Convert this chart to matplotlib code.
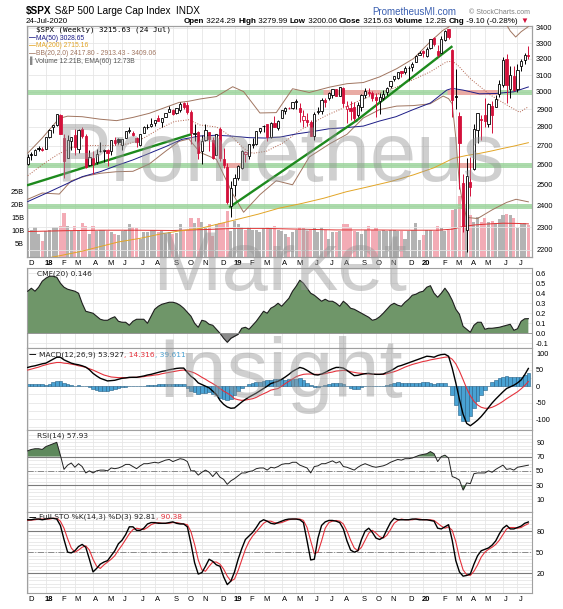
import numpy as np
import pandas as pd
import matplotlib
matplotlib.use('Agg')
import matplotlib.pyplot as plt
from matplotlib.ticker import NullLocator, NullFormatter

plt.rcParams['font.family'] = ['DejaVu Sans']

W, H = 563, 609
fig = plt.figure(figsize=(W / 100, H / 100), dpi=100)


def fx(x):
    return x / W


def fy(y):
    return 1 - y / H


# weekly bars, 1 Dec 2017 .. 24 Jul 2020
weeks = pd.date_range('2017-12-01', '2020-07-24', freq='W-FRI')
idx = np.arange(len(weeks))

opens = [2603, 2657, 2652, 2685, 2682, 2684, 2746, 2799, 2810, 2867,
         2741, 2637, 2722, 2757, 2681, 2790, 2752, 2600, 2633, 2615,
         2670, 2675, 2675, 2669, 2727, 2735, 2705, 2742, 2780, 2766,
         2742, 2705, 2768, 2798, 2805, 2820, 2849, 2828, 2857, 2884,
         2897, 2880, 2896, 2933, 2926, 2882, 2763, 2773, 2670, 2727,
         2774, 2730, 2650, 2790, 2630, 2590, 2400, 2498, 2535, 2585,
         2657, 2644, 2703, 2707, 2780, 2804, 2814, 2747, 2822, 2797,
         2848, 2888, 2908, 2904, 2941, 2908, 2840, 2841, 2830, 2751,
         2885, 2887, 2952, 2964, 2980, 3018, 2978, 3025, 2899, 2908,
         2913, 2866, 2910, 2980, 2996, 2993, 2967, 2944, 2965, 2996,
         3035, 3078, 3081, 3123, 3117, 3144, 3147, 3183, 3227, 3247,
         3218, 3271, 3334, 3248, 3236, 3318, 3390, 3257, 2974, 2863,
         2509, 2290, 2514, 2578, 2782, 2845, 2869, 2815, 2915, 2913,
         2988, 3038, 3199, 3018, 3094, 3018, 3155, 3191, 3224]
highs = [2657, 2665, 2680, 2695, 2692, 2744, 2787, 2811, 2873, 2870,
         2763, 2755, 2747, 2789, 2787, 2802, 2762, 2674, 2672, 2681,
         2718, 2683, 2682, 2732, 2743, 2742, 2736, 2779, 2801, 2780,
         2743, 2760, 2804, 2816, 2848, 2841, 2864, 2851, 2877, 2916,
         2900, 2906, 2941, 2940, 2939, 2894, 2816, 2778, 2756, 2815,
         2775, 2747, 2760, 2800, 2686, 2607, 2520, 2553, 2597, 2675,
         2672, 2708, 2738, 2780, 2793, 2813, 2817, 2830, 2860, 2836,
         2894, 2910, 2913, 2940, 2955, 2932, 2892, 2875, 2840, 2884,
         2911, 2964, 2964, 2996, 3014, 3018, 3028, 3029, 2945, 2944,
         2939, 2940, 2985, 3021, 3022, 3002, 2992, 2993, 3008, 3027,
         3066, 3097, 3121, 3127, 3154, 3154, 3183, 3226, 3248, 3259,
         3275, 3330, 3338, 3285, 3347, 3385, 3393, 3260, 3137, 2883,
         2555, 2637, 2641, 2818, 2880, 2868, 2965, 2933, 2945, 2980,
         3068, 3211, 3233, 3155, 3155, 3165, 3200, 3238, 3280]
lows = [2600, 2625, 2649, 2673, 2673, 2683, 2738, 2769, 2808, 2762,
        2533, 2634, 2675, 2648, 2659, 2741, 2586, 2594, 2553, 2605,
        2665, 2612, 2594, 2649, 2702, 2708, 2676, 2742, 2766, 2749,
        2691, 2698, 2768, 2790, 2799, 2803, 2831, 2802, 2853, 2884,
        2864, 2873, 2886, 2903, 2874, 2710, 2724, 2628, 2603, 2723,
        2670, 2631, 2649, 2621, 2583, 2409, 2347, 2444, 2525, 2580,
        2612, 2631, 2687, 2704, 2765, 2775, 2722, 2739, 2800, 2785,
        2848, 2873, 2898, 2900, 2900, 2825, 2800, 2805, 2750, 2728,
        2873, 2874, 2912, 2952, 2966, 2975, 2975, 2914, 2822, 2840,
        2834, 2853, 2891, 2964, 2978, 2946, 2856, 2873, 2952, 2983,
        3023, 3065, 3077, 3090, 3107, 3070, 3125, 3183, 3223, 3212,
        3214, 3263, 3280, 3214, 3234, 3316, 3328, 2855, 2902, 2478,
        2280, 2192, 2447, 2575, 2715, 2727, 2801, 2798, 2766, 2910,
        2969, 3031, 2936, 2965, 3004, 3000, 3127, 3166, 3200]
closes = [2642, 2652, 2676, 2683, 2674, 2743, 2786, 2810, 2873, 2762,
          2620, 2732, 2747, 2691, 2786, 2752, 2588, 2641, 2604, 2656,
          2670, 2670, 2663, 2728, 2712, 2721, 2735, 2779, 2780, 2755,
          2718, 2760, 2801, 2802, 2819, 2840, 2833, 2850, 2875, 2901,
          2872, 2905, 2930, 2914, 2886, 2767, 2768, 2659, 2723, 2781,
          2736, 2633, 2760, 2633, 2600, 2417, 2486, 2532, 2596, 2671,
          2665, 2707, 2708, 2776, 2793, 2804, 2743, 2822, 2800, 2834,
          2893, 2907, 2905, 2940, 2946, 2881, 2860, 2826, 2752, 2873,
          2887, 2950, 2942, 2990, 3014, 2977, 3026, 2932, 2919, 2889,
          2847, 2926, 2979, 3007, 2992, 2962, 2952, 2970, 2986, 3023,
          3066, 3093, 3120, 3110, 3141, 3146, 3169, 3221, 3240, 3235,
          3265, 3330, 3295, 3226, 3328, 3380, 3338, 2954, 2972, 2711,
          2305, 2541, 2489, 2790, 2875, 2837, 2831, 2930, 2864, 2955,
          3044, 3194, 3041, 3098, 3009, 3130, 3185, 3225, 3216]
# volume in billions
volume = [11.0, 10.5, 11.5, 9.0, 6.0, 10.0, 10.5, 11.5, 11.5, 12.0,
          17.0, 12.0, 10.0, 12.0, 10.5, 13.0, 12.0, 9.0, 12.0, 10.0,
          10.5, 10.5, 10.0, 9.5, 9.0, 8.5, 10.0, 10.5, 12.5, 11.5,
          11.0, 7.0, 9.5, 9.8, 10.5, 10.5, 9.5, 10.0, 9.0, 9.5,
          9.0, 9.2, 12.5, 10.5, 10.5, 15.0, 13.0, 15.0, 13.5, 11.0,
          12.5, 8.0, 12.5, 13.0, 13.0, 17.5, 10.0, 14.0, 12.5, 11.5,
          10.5, 11.5, 10.5, 10.5, 9.5, 11.0, 11.5, 11.0, 12.0, 10.5,
          10.0, 9.0, 7.5, 9.5, 10.5, 11.5, 11.0, 10.0, 10.5, 11.0,
          9.5, 11.5, 10.5, 7.0, 9.5, 9.5, 10.0, 12.5, 12.5, 11.5,
          10.0, 9.5, 9.0, 10.5, 12.0, 10.5, 11.0, 10.0, 10.5, 10.0,
          10.5, 10.5, 10.0, 10.0, 7.0, 10.0, 10.5, 13.0, 6.5, 8.5,
          10.5, 10.5, 10.0, 12.0, 11.0, 10.0, 10.5, 18.0, 18.5, 23.5,
          23.0, 19.0, 16.0, 13.5, 15.5, 13.5, 15.0, 13.5, 14.0, 13.0,
          14.5, 16.0, 16.5, 16.0, 15.0, 11.0, 12.5, 13.0, 12.2]

# overlays: (week index, value)
ma50_x = [0, 6, 11, 15, 20, 24.5, 29, 33.5, 38, 42.5, 47.5, 52, 56.5, 61, 65.5, 69.5,
          74, 78.5, 83, 87.5, 92.5, 97, 101.5, 106, 111, 115.5, 117, 120, 124.5, 129, 134, 138]
ma50_y = [2419, 2466, 2507, 2540, 2565, 2596, 2625, 2659, 2694, 2733, 2751, 2755, 2750, 2742, 2740, 2745,
          2762, 2775, 2790, 2796, 2805, 2833, 2857, 2895, 2935, 3010, 3020, 3010, 2988, 2990, 3000, 3028.65]
ma200_x = [0, 8.7, 15, 20, 25, 31, 36, 41.5, 47.5, 52.5, 57.5, 63.5, 69.3, 75.5, 81.6, 87.8,
           93.8, 99.8, 106.3, 112, 117.3, 121, 124.6, 128, 131, 134, 138]
ma200_y = [2150, 2175, 2195, 2215, 2235, 2251, 2268, 2283, 2295, 2315, 2335, 2360, 2388, 2410, 2435, 2466,
           2490, 2515, 2549, 2585, 2633, 2648, 2659, 2672, 2685, 2697, 2715.16]
bb_mid_x = [0, 4, 8, 12, 16, 20, 24, 28, 32, 36.3, 40.4, 44.4, 47.5, 52, 56.5, 59.5, 62, 65.8,
            70.4, 75, 78.7, 82.4, 86, 91.5, 97, 101.7, 110.9, 115.4, 117, 118, 119, 120, 122,
            127.4, 132.9, 135.6, 138]
bb_mid_y = [2545, 2600, 2650, 2690, 2700, 2700, 2700, 2710, 2740, 2790, 2830, 2840, 2811, 2800, 2743, 2685,
            2659, 2670, 2714, 2780, 2824, 2865, 2897, 2950, 2993, 3028, 3119, 3181, 3185, 3170, 3150,
            3125, 3078, 2983, 2913, 2882, 2913.43]
bb_up_x = [0, 4, 8.7, 11, 15, 20, 24.5, 29, 33.5, 38, 41.7, 44.4, 47.5, 52, 56.5, 59.5, 64, 68.5,
           73, 77.6, 83.3, 88, 92.5, 97, 101.7, 106.3, 110.9, 114.5, 116, 117, 118, 120, 124,
           128, 131, 132, 133, 134.5, 136, 138]
bb_up_y = [2660, 2740, 2848, 2860, 2857, 2843, 2835, 2853, 2876, 2910, 2938, 2945, 2958, 2972, 3030, 3001,
           2878, 2880, 3018, 2996, 3028, 3048, 3055, 3089, 3139, 3201, 3308, 3385, 3405, 3440, 3600,
           3800, 3800, 3600, 3460, 3420, 3380, 3340, 3375, 3409.06]
bb_lo_x = [0, 4, 8.7, 12, 16, 20, 24.5, 29, 33.5, 38, 41.7, 44.4, 47.5, 52, 56.5, 59.5, 64, 68.5,
           73, 77.6, 83.3, 88, 92.5, 97, 101.7, 106.3, 110.9, 114.5, 116, 117, 118, 119, 120,
           121, 124, 128, 132, 134.6, 136, 138]
bb_lo_y = [2430, 2460, 2455, 2520, 2543, 2557, 2565, 2567, 2604, 2670, 2722, 2735, 2664, 2628, 2456, 2369,
           2452, 2520, 2500, 2640, 2710, 2760, 2850, 2897, 2917, 2920, 2930, 2975, 2960, 2930, 2740,
           2500, 2400, 2345, 2340, 2380, 2415, 2430, 2425, 2417.8]
vol_ema_x = [0, 10, 20, 30, 40, 50, 57, 65, 75, 85, 95, 105, 113, 117, 120, 123, 127, 131, 135, 138]
vol_ema_y = [9.8, 10.1, 10.3, 10.3, 10.2, 10.6, 11.0, 11.0, 10.7, 10.4, 10.4, 10.3, 10.3, 10.7, 11.7,
             12.3, 12.7, 13.0, 12.9, 12.73]

# drawn annotations
levels = [3000, 2600, 2400]
level_pink = [(3000, 81.5, 97.1), (3000, 115.5, 129.3), (2600, 53.9, 58.6), (2600, 119, 123)]
trend_lines = [([0.1, 44.7], [2499, 2758]),
               ([55.8, 90.6], [2395, 2835]),
               ([90.6, 116.8], [2835, 3276])]

cmf = [0.42, 0.45, 0.42, 0.46, 0.52, 0.55, 0.57, 0.57, 0.56, 0.50,
       0.46, 0.44, 0.43, 0.42, 0.40, 0.30, 0.22, 0.21, 0.20, 0.17,
       0.14, 0.13, 0.13, 0.15, 0.165, 0.12, 0.11, 0.11, 0.08, 0.12,
       0.14, 0.14, 0.14, 0.10, 0.17, 0.24, 0.27, 0.29, 0.30, 0.31,
       0.31, 0.30, 0.28, 0.25, 0.21, 0.17, 0.10, 0.06, 0.13, 0.12,
       0.09, 0.08, 0.04, 0.00, -0.05, -0.09, -0.05, -0.03, -0.01, 0.05,
       0.06, 0.04, 0.08, 0.12, 0.17, 0.22, 0.20, 0.25, 0.27, 0.30,
       0.27, 0.31, 0.35, 0.42, 0.47, 0.53, 0.50, 0.45, 0.40, 0.38,
       0.35, 0.32, 0.34, 0.32, 0.32, 0.30, 0.27, 0.32, 0.29, 0.25,
       0.24, 0.22, 0.20, 0.18, 0.16, 0.13, 0.14, 0.165, 0.20, 0.24,
       0.28, 0.30, 0.28, 0.27, 0.31, 0.34, 0.38, 0.39, 0.41, 0.42,
       0.46, 0.475, 0.40, 0.36, 0.40, 0.45, 0.40, 0.33, 0.24, 0.19,
       0.07, 0.04, 0.01, 0.08, 0.11, 0.11, 0.04, 0.05, 0.05, 0.055,
       0.06, 0.07, 0.08, 0.09, 0.03, 0.045, 0.12, 0.145, 0.146]
macd = [57, 60, 62, 65, 68, 70, 76, 82, 88, 88,
        80, 75, 70, 67, 65, 62, 58, 50, 39, 31,
        24, 20, 16, 17, 18, 21, 24, 25, 27, 27,
        27, 29, 31, 34, 36, 39, 42, 45, 47, 50,
        52, 54, 55, 55, 42, 30, 22, 10, 5, 0,
        -5, -15, -25, -43, -55, -63, -67, -66, -57, -48,
        -40, -33, -27, -21, -14, -7, 0, 8, 11.5, 15,
        21, 28, 36, 45, 51, 57, 54, 48, 41, 35,
        34, 37, 42, 48, 53, 57, 57, 55, 48, 40,
        32, 33, 36, 38, 39, 37, 36, 36, 37, 42,
        47, 53, 60, 63, 67, 71, 75, 79, 83, 87,
        91, 90, 88, 93, 96, 97, 91, 55, 10, -40,
        -85, -113, -120, -112, -103, -92, -79, -65, -51, -39,
        -28, -17, -7, -2, 3, 10, 19, 35, 53.927]
macd_sig = [49, 52, 55, 58, 62, 65, 68, 70, 72, 72,
            70, 69, 67, 65, 62, 60, 57, 53, 49, 44,
            39, 34, 31, 28, 27, 26, 26, 26, 26, 27,
            27, 28, 29, 31, 32, 34, 35, 38, 40, 42,
            44, 46, 48, 49, 47, 44, 40, 34, 27, 21,
            14, 8, 1, -7, -15, -21, -28, -38, -41, -43,
            -42, -40, -38, -34, -28, -23, -18, -12, -9.5, -7,
            0, 8, 15, 22, 29, 33, 36, 37, 37, 36,
            36, 36, 38, 41, 43, 46, 47, 48, 47, 44,
            42, 40, 39, 38, 37, 36, 36, 36, 36, 38,
            41, 44, 48, 53, 58, 62, 66, 69, 72, 75,
            77, 80, 82, 84, 86, 88, 89, 82, 68, 46,
            20, -7, -29, -46, -57, -64, -67, -67, -64, -59,
            -53, -46, -38, -31, -24, -17, -8, 2, 14.316]
rsi = [78, 80, 81, 81, 80, 84, 86, 88, 90, 72,
       52, 58, 61, 55, 60, 56, 47, 50, 47, 50,
       51, 51, 50, 54, 53, 54, 56, 59, 59, 56,
       53, 57, 60, 60, 61, 62, 61, 63, 65, 66,
       63, 65, 67, 66, 63, 50, 50, 44, 48, 51,
       48, 42, 48, 41, 38, 31, 36, 39, 43, 47,
       47, 49, 50, 53, 54, 54, 51, 55, 54, 56,
       59, 60, 60, 62, 62, 58, 56, 54, 47, 56,
       57, 60, 60, 62, 64, 61, 63, 56, 55, 53,
       51, 55, 58, 60, 58, 56, 55, 56, 57, 59,
       62, 64, 66, 65, 67, 67, 68, 70, 72, 73,
       74, 77, 74, 63, 70, 72, 68, 42, 40, 37,
       23, 33, 32, 46, 47, 47, 47, 50, 48, 52,
       55, 58, 52, 53, 51, 55, 56, 57, 57.93]
sto_k = [96, 96, 97, 97, 96, 97, 98, 98, 97, 88,
         68, 50, 49, 52, 58, 61, 57, 40, 22, 27,
         33, 36, 38, 45, 52, 62, 67, 75, 86, 86,
         81, 81, 84, 90, 92, 92, 91, 91, 91, 92,
         93, 91, 90, 90, 86, 62, 35, 19, 21, 30,
         40, 37, 32, 30, 15, 4, 9, 22, 40, 55,
         68, 73, 78, 85, 93, 96, 94, 91, 90, 92,
         94, 96, 97, 97, 97, 96, 92, 66, 39, 40,
         70, 88, 93, 95, 95, 94, 92, 83, 66, 53,
         50, 52, 68, 80, 84, 78, 70, 68, 71, 82,
         92, 98, 96, 96, 96, 96, 97, 97, 96, 96,
         96, 95, 94, 84, 83, 86, 89, 67, 38, 22,
         16, 17, 19, 33, 45, 52, 54, 56, 60, 66,
         76, 84, 88, 83, 83, 85, 87, 91, 92.81]
sto_d = [95, 95.5, 96, 97, 97, 97, 97, 98, 98, 94,
         84, 69, 56, 50, 53, 57, 59, 53, 40, 30,
         27, 32, 36, 40, 45, 53, 60, 68, 76, 82,
         84, 83, 82, 85, 89, 91, 92, 91, 91, 91,
         92, 92, 91, 90, 89, 79, 61, 39, 25, 23,
         30, 36, 36, 33, 26, 16, 9, 12, 24, 39,
         54, 65, 73, 79, 85, 91, 94, 94, 92, 91,
         92, 94, 96, 97, 97, 97, 95, 85, 66, 48,
         50, 66, 84, 92, 94, 95, 94, 90, 80, 67,
         56, 52, 57, 67, 77, 81, 77, 72, 70, 74,
         82, 91, 95, 97, 96, 96, 96, 97, 97, 96,
         96, 96, 95, 91, 87, 84, 86, 81, 65, 42,
         25, 18, 17, 23, 32, 43, 50, 54, 57, 61,
         67, 75, 83, 85, 85, 84, 85, 88, 90.38]

# month grid / labels
month_pos, month_lab, is_year = [], [], []
for j, d in enumerate(weeks):
    if j == 0 or d.month != weeks[j - 1].month:
        month_pos.append(j)
        if d.month == 1:
            month_lab.append(d.strftime('%y'))
            is_year.append(True)
        else:
            month_lab.append('JFMAMJJASOND'[d.month - 1])
            is_year.append(False)

GRID = '#e6e6e6'
EDGE = '#a0a0a0'
RED = '#d3103a'
NUMFONT = 'Liberation Sans'


def rect(top, bottom):
    return [fx(27), fy(bottom), fx(532) - fx(27), (bottom - top) / H]


def setup(ax, labels=False):
    ax.set_xlim(-0.2, 139.0)
    for j in month_pos:
        ax.axvline(j, color=GRID, lw=0.6, zorder=0)
    for s in ax.spines.values():
        s.set_color(EDGE)
        s.set_linewidth(0.8)
    ax.tick_params(axis='both', length=0)
    ax.set_xticks([p + 0.8 for p in month_pos])
    if labels:
        tl = ax.set_xticklabels(month_lab, family=NUMFONT, fontsize=5.5)
        for t, y in zip(tl, is_year):
            if y:
                t.set_fontweight('bold')
        ax.tick_params(axis='x', pad=2.2)
    else:
        ax.set_xticklabels([])


def right_ticks(ax, ticks, labels, grid_vals):
    ax.yaxis.tick_right()
    ax.set_yticks(ticks)
    ax.set_yticklabels(labels, family=NUMFONT, fontsize=5.3)
    ax.tick_params(axis='y', pad=3)
    for v in grid_vals:
        ax.axhline(v, color=GRID, lw=0.6, zorder=0)


# ---------------- price panel ----------------
ax_v = fig.add_axes(rect(26, 257))
setup(ax_v, labels=True)
ax_v.set_ylim(0, 88.8)
ax_v.set_yticks([5, 10, 15, 20, 25])
ax_v.set_yticklabels(['5B', '10B', '15B', '20B', '25B'], family=NUMFONT, fontsize=5.3)
ax_v.tick_params(axis='y', pad=2)
up = [j == 0 or closes[j] >= closes[j - 1] for j in idx]
ax_v.bar(idx, volume, width=0.85, color=['#b3b3b3' if u else '#f3abb5' for u in up], zorder=1)
ax_v.plot(vol_ema_x, vol_ema_y, color='#e03030', lw=0.7, zorder=2)

ax_p = ax_v.twinx()
ax_p.set_yscale('log')
ax_p.set_ylim(2170, 3413)
pt = list(range(2200, 3500, 100))
ax_p.set_yticks(pt)
ax_p.set_yticklabels([str(v) for v in pt], family=NUMFONT, fontsize=5.3)
ax_p.yaxis.set_minor_locator(NullLocator())
ax_p.yaxis.set_minor_formatter(NullFormatter())
ax_p.tick_params(axis='y', length=0, pad=3)
for s in ax_p.spines.values():
    s.set_color(EDGE)
    s.set_linewidth(0.8)
for v in pt:
    ax_p.axhline(v, color=GRID, lw=0.6, zorder=0)

for lv in levels:
    ax_p.axhline(lv, color='#90d090', lw=3.6, alpha=0.75, zorder=2)
for lv, a, b in level_pink:
    ax_p.plot([a, b], [lv, lv], color='#f5a3a3', lw=3.6, alpha=0.85, zorder=2,
              solid_capstyle='butt')

ax_p.plot(ma200_x, ma200_y, color='#e2a526', lw=0.7, zorder=3)
ax_p.plot(bb_up_x, bb_up_y, color='#a07560', lw=0.7, zorder=3)
ax_p.plot(bb_lo_x, bb_lo_y, color='#a07560', lw=0.7, zorder=3)
ax_p.plot(bb_mid_x, bb_mid_y, color='#b0604a', lw=0.7, ls=(0, (1, 1.6)), zorder=3)
ax_p.plot(ma50_x, ma50_y, color='#1c1c86', lw=0.7, zorder=3)
for tx, ty in trend_lines:
    ax_p.plot(tx, ty, color='#1d8a1d', lw=1.7, zorder=4)

cols = [('black' if u else RED) for u in up]
ax_p.vlines(idx, lows, highs, colors=cols, lw=0.7, zorder=5)
body = [abs(c - o) if abs(c - o) > 1 else 1.5 for o, c in zip(opens, closes)]
bottoms = [min(o, c) for o, c in zip(opens, closes)]
faces = ['white' if c >= o else col for o, c, col in zip(opens, closes, cols)]
ax_p.bar(idx, body, bottom=bottoms, width=0.62, color=faces, edgecolor=cols, lw=0.6, zorder=6)

# ---------------- CMF ----------------
ax_c = fig.add_axes(rect(268, 348))
setup(ax_c)
ax_c.set_ylim(-0.147, 0.652)
ct = [0.6, 0.5, 0.4, 0.3, 0.2, 0.1, 0.0, -0.1]
right_ticks(ax_c, ct, ['%.1f' % v for v in ct], ct)
cm = np.array(cmf)
ax_c.fill_between(idx, cm, 0, where=cm >= 0, interpolate=True, color='#6f9669', lw=0, zorder=2)
ax_c.fill_between(idx, cm, 0, where=cm <= 0, interpolate=True, color='#8a8a8a', lw=0, zorder=2)
ax_c.plot(idx, cm, color='#1e1e1e', lw=0.8, zorder=3)
ax_c.axhline(0, color='#8c8c8c', lw=0.6, zorder=3)

# ---------------- MACD ----------------
ax_m = fig.add_axes(rect(348, 430))
setup(ax_m)
ax_m.set_ylim(-133, 116)
mt = [100, 50, 0, -50, -100]
right_ticks(ax_m, mt, [str(v) for v in mt], [100, 75, 50, 25, 0, -25, -50, -75, -100, -125])
hist = np.array(macd) - np.array(macd_sig)
ax_m.bar(idx, hist, width=1.0, color='#49a2d3', edgecolor='#245f86', lw=0.4, zorder=2)
ax_m.plot(idx, macd_sig, color='#e5323c', lw=0.8, zorder=3)
ax_m.plot(idx, macd, color='black', lw=1.0, zorder=4)

# ---------------- RSI ----------------
ax_r = fig.add_axes(rect(430, 512))
setup(ax_r)
ax_r.set_ylim(-7.8, 107.3)
right_ticks(ax_r, [90, 70, 50, 30, 10], ['90', '70', '50', '30', '10'], range(0, 101, 5))
ra = np.array(rsi)
ax_r.fill_between(idx, ra, 70, where=ra >= 70, interpolate=True, color='#5e895c', lw=0, zorder=2)
ax_r.fill_between(idx, ra, 30, where=ra <= 30, interpolate=True, color='#5e895c', lw=0, zorder=2)
ax_r.axhline(70, color='#7a7a7a', lw=0.8, zorder=1)
ax_r.axhline(30, color='#7a7a7a', lw=0.8, zorder=1)
ax_r.axhline(50, color='#8a8a8a', lw=0.7, ls='-.', zorder=1)
ax_r.plot(idx, ra, color='#222222', lw=0.7, zorder=3)

# ---------------- Full STO ----------------
ax_s = fig.add_axes(rect(512, 593))
setup(ax_s, labels=True)
ax_s.set_ylim(-7.9, 107)
right_ticks(ax_s, [80, 50, 20], ['80', '50', '20'], range(0, 101, 5))
ax_s.axhline(80, color='#7a7a7a', lw=0.8, zorder=1)
ax_s.axhline(20, color='#7a7a7a', lw=0.8, zorder=1)
ax_s.axhline(50, color='#8a8a8a', lw=0.7, ls='-.', zorder=1)
ax_s.plot(idx, sto_d, color='#e5323c', lw=0.8, zorder=3)
ax_s.plot(idx, sto_k, color='black', lw=1.0, zorder=4)


# ---------------- texts ----------------
def chain(ax, x, y, parts, size, family='DejaVu Sans'):
    t = ax.text(fx(x), fy(y), parts[0][0], color=parts[0][1], fontweight=parts[0][2],
                fontsize=size, family=family, va='center', ha='left', transform=fig.transFigure,
                zorder=20)
    for s, c, w in parts[1:]:
        t = ax.annotate(s, xy=(1, 0), xycoords=t, va='bottom', ha='left', color=c,
                        fontweight=w, fontsize=size, family=family, zorder=20)
    return t


chain(ax_p, 26, 11, [('$SPX', 'black', 'bold'), (' S&P 500 Large Cap Index  INDX', 'black', 'normal')],
      7.2, NUMFONT)
fig.text(fx(26), fy(21.5), '24-Jul-2020', fontsize=5.8, family=NUMFONT, va='center')
chain(ax_p, 184, 21.5, [('Open', 'black', 'bold'), (' 3224.29 ', 'black', 'normal'),
                        ('High', 'black', 'bold'), (' 3279.99 ', 'black', 'normal'),
                        ('Low', 'black', 'bold'), (' 3200.06 ', 'black', 'normal'),
                        ('Close', 'black', 'bold'), (' 3215.63 ', 'black', 'normal'),
                        ('Volume', 'black', 'bold'), (' 12.2B ', 'black', 'normal'),
                        ('Chg', 'black', 'bold'), (' -9.10 (-0.28%) ', 'black', 'normal'),
                        ('\u25bc', RED, 'normal')], 5.8, NUMFONT)
fig.text(fx(372), fy(12), 'PrometheusMI.com', fontsize=7.0, family=NUMFONT, color='#3a5fb0',
         va='center')
fig.text(fx(469), fy(12), '\u00a9 StockCharts.com', fontsize=5.0, family=NUMFONT, color='#808080',
         va='center')

chain(ax_p, 36, 30, [('$SPX (Weekly) 3215.63 (24 Jul)', 'black', 'normal')], 5.4, 'DejaVu Sans Mono')
chain(ax_p, 29, 38, [('\u2014', '#1c1c86', 'bold'), ('MA(50) 3028.65', '#1c1c86', 'normal')], 4.9, NUMFONT)
chain(ax_p, 29, 45.5, [('\u2014', '#e2a526', 'bold'), ('MA(200) 2715.16', '#e2a526', 'normal')], 4.9, NUMFONT)
chain(ax_p, 29, 53.3, [('\u2014', '#a07560', 'bold'),
                       ('BB(20,2.0) 2417.80 - 2913.43 - 3409.06', '#a07560', 'normal')], 4.9, NUMFONT)
chain(ax_p, 30, 61, [('\u258c', '#888888', 'normal'), ('Volume 12.21B, EMA(60) 12.73B', '#555555', 'normal')],
      4.9, NUMFONT)

chain(ax_c, 37, 273.5, [('CMF(20) 0.146', '#222222', 'normal')], 5.4)
chain(ax_m, 29, 354.5, [('\u2014 ', 'black', 'bold'), ('MACD(12,26,9) 53.927', '#222222', 'normal'),
                        (', 14.316', '#e5323c', 'normal'), (', 39.611', '#49a2d3', 'normal')], 5.4)
chain(ax_r, 37, 435.5, [('RSI(14) 57.93', '#222222', 'normal')], 5.4)
chain(ax_s, 29, 517, [('\u2014 ', 'black', 'bold'), ('Full STO %K(14,3) %D(3) 92.81', '#222222', 'normal'),
                      (', 90.38', '#e5323c', 'normal')], 5.4)

# watermark
for word, base in [('Prometheus', 181), ('Market', 290), ('Insight', 397)]:
    fig.text(fx(280), fy(base), word, fontsize=60, family=NUMFONT, color='#959595', alpha=0.45,
             ha='center', va='baseline', zorder=30)

fig.savefig('out.png', dpi=100, facecolor='white')
